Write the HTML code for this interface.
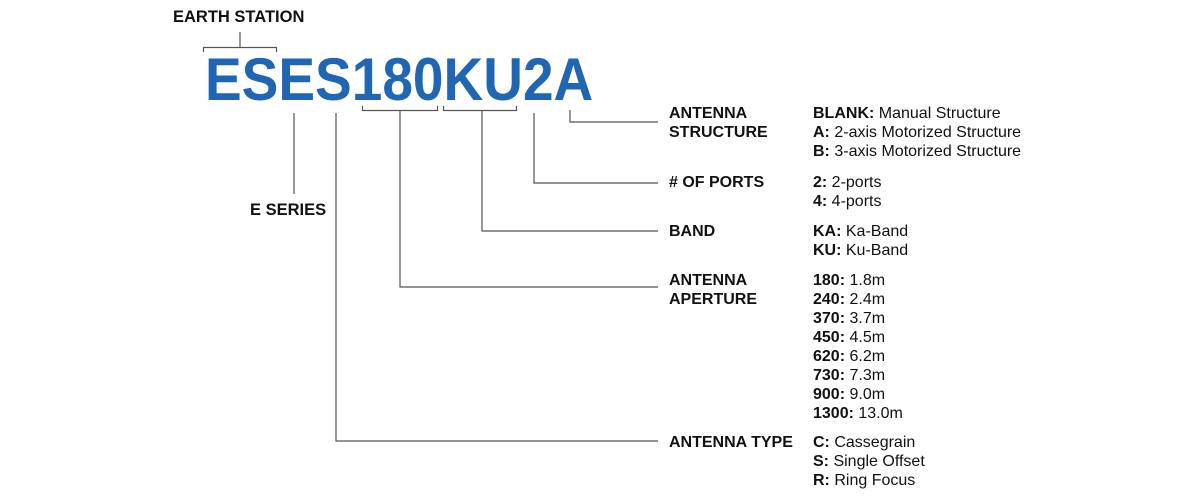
<!DOCTYPE html>
<html><head><meta charset="utf-8"><style>
body{margin:0;width:1200px;height:500px;background:#fff;position:relative;overflow:hidden;font-family:"Liberation Sans",Arial,sans-serif;color:#111}
.t{position:absolute;font-size:16px;line-height:19px;white-space:nowrap}
.b{font-weight:bold}
.big{position:absolute;left:205px;top:54px;font-size:55px;font-weight:bold;color:#2166b3;line-height:55px;transform:scaleY(1.1);transform-origin:0 46px;white-space:nowrap}
svg{position:absolute;left:0;top:0}
</style></head><body>
<svg width="1200" height="500"><g stroke="#555" stroke-width="1.2" fill="none">
<path d="M240 32V48M203.5 52V47.5H276.5V52"/>
<path d="M294 113V194"/>
<path d="M336 113V441H658"/>
<path d="M362.5 106V110.5H437.5V106M400 110V287H658"/>
<path d="M443.5 106V110.5H516.5V106M482 110V231H658"/>
<path d="M534 113V183H658"/>
<path d="M570 110V122H658"/>
</g></svg>
<div class="t b" style="left:173px;top:8px;font-size:16.5px">EARTH STATION</div>
<div class="big">ESES180KU2A</div>
<div class="t b" style="left:250px;top:201px;font-size:16.5px">E SERIES</div>

<div class="t b" style="left:669px;top:104px">ANTENNA<br>STRUCTURE</div>
<div class="t" style="left:813px;top:104px"><b>BLANK:</b> Manual Structure<br><b>A:</b> 2-axis Motorized Structure<br><b>B:</b> 3-axis Motorized Structure</div>

<div class="t b" style="left:669px;top:173px"># OF PORTS</div>
<div class="t" style="left:813px;top:173px"><b>2:</b> 2-ports<br><b>4:</b> 4-ports</div>

<div class="t b" style="left:669px;top:222px">BAND</div>
<div class="t" style="left:813px;top:222px"><b>KA:</b> Ka-Band<br><b>KU:</b> Ku-Band</div>

<div class="t b" style="left:669px;top:271px">ANTENNA<br>APERTURE</div>
<div class="t" style="left:813px;top:271px"><b>180:</b> 1.8m<br><b>240:</b> 2.4m<br><b>370:</b> 3.7m<br><b>450:</b> 4.5m<br><b>620:</b> 6.2m<br><b>730:</b> 7.3m<br><b>900:</b> 9.0m<br><b>1300:</b> 13.0m</div>

<div class="t b" style="left:669px;top:433px">ANTENNA TYPE</div>
<div class="t" style="left:813px;top:433px"><b>C:</b> Cassegrain<br><b>S:</b> Single Offset<br><b>R:</b> Ring Focus</div>
</body></html>
